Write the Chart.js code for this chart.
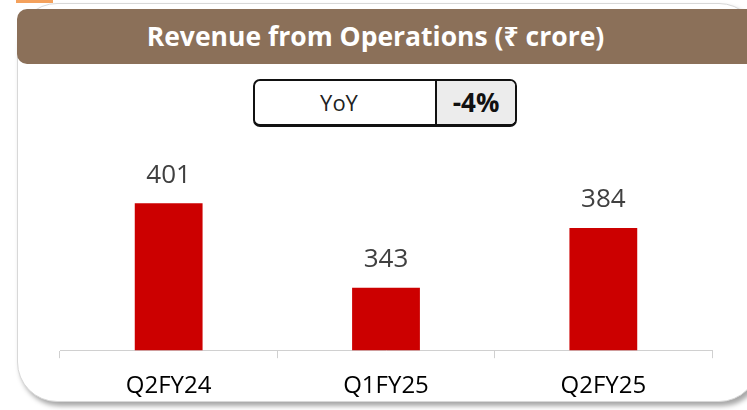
<!DOCTYPE html>
<html>
<head>
<meta charset="utf-8">
<script src="https://cdn.jsdelivr.net/npm/chart.js@4/dist/chart.umd.min.js"></script>
<style>
  html, body { margin: 0; padding: 0; background: #fff; }
  body { width: 747px; height: 410px; position: relative; overflow: hidden; font-family: "Open Sans", "Noto Sans", sans-serif; }
  .accent { position: absolute; left: 16px; top: 0; width: 37px; height: 3px; background: #f4a15c; }
  .card {
    position: absolute; left: 17px; top: 3px; width: 740px; height: 397px;
    background: #fff; border: 1px solid #d8d8d8; border-radius: 40px;
    box-shadow: 3px 4px 5px rgba(0,0,0,0.35);
  }
  .header {
    position: absolute; left: 17px; top: 9px; width: 740px; height: 55px;
    background: #8b7059; border-radius: 10px 0 0 10px;
    color: #fff; font-weight: 700; font-size: 26.5px; line-height: 55px;
    text-align: center; box-sizing: border-box; padding-right: 23px;
  }
  .yoy {
    position: absolute; left: 253px; top: 79px; width: 264px; height: 48px;
    box-sizing: border-box; border: 2px solid #111; border-bottom-width: 3px;
    border-radius: 7px; overflow: hidden; display: flex;
  }
  .yoy .lbl { flex: 1; text-align: center; font-size: 22px; line-height: 43px; color: #222; padding-right: 12px; }
  .yoy .val { width: 78px; background: #ececec; border-left: 2px solid #111; text-align: center;
    font-size: 26px; font-weight: 700; line-height: 43px; color: #111; }
  #wrap { position: absolute; left: 0; top: 0; width: 747px; height: 410px; overflow: hidden; }
</style>
</head>
<body>
<div class="accent"></div>
<div class="card"></div>
<div class="header">Revenue from Operations (₹ crore)</div>
<div class="yoy"><div class="lbl">YoY</div><div class="val">-4%</div></div>
<div id="wrap"><canvas id="revChart" width="747" height="427"></canvas></div>
<script>
const categories = ['Q2FY24', 'Q1FY25', 'Q2FY25'];
const revenue = [401, 343, 384];

// write the value above each bar
const valueLabels = {
  id: 'valueLabels',
  afterDatasetsDraw(chart) {
    const ctx = chart.ctx;
    const meta = chart.getDatasetMeta(0);
    ctx.save();
    ctx.font = '26px "Open Sans", "Noto Sans", sans-serif';
    ctx.fillStyle = '#404040';
    ctx.textAlign = 'center';
    ctx.textBaseline = 'middle';
    meta.data.forEach((bar, i) => {
      ctx.fillText(String(revenue[i]), bar.x, bar.y - 28);
    });
    ctx.restore();
  }
};

document.addEventListener('DOMContentLoaded', () => {
  const ctx = document.getElementById('revChart').getContext('2d');
  new Chart(ctx, {
    type: 'bar',
    data: {
      labels: categories,
      datasets: [{
        data: revenue,
        backgroundColor: '#cc0000',
        borderWidth: 0,
        barPercentage: 0.52,
        categoryPercentage: 0.6
      }]
    },
    options: {
      responsive: false,
      animation: false,
      layout: { padding: { left: 60, right: 35, top: 132, bottom: 12 } },
      plugins: {
        legend: { display: false },
        tooltip: { enabled: false }
      },
      scales: {
        y: { display: false, min: 300, max: 450 },
        x: {
          grid: { drawOnChartArea: false, drawTicks: true, tickLength: 8, color: '#d0d0d0', offset: true },
          border: { display: true, color: '#d0d0d0', width: 1 },
          ticks: {
            color: '#000',
            padding: 14,
            font: { family: '"Open Sans", "Noto Sans", sans-serif', size: 24 }
          }
        }
      }
    },
    plugins: [valueLabels]
  });
});
</script>
</body>
</html>
